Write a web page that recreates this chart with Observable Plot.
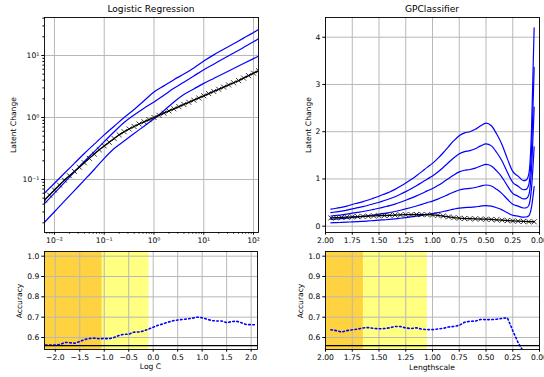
<!DOCTYPE html>
<html><head><meta charset="utf-8">
<script src="https://cdn.jsdelivr.net/npm/d3@7"></script>
<script src="https://cdn.jsdelivr.net/npm/@observablehq/plot@0.6"></script>
<style>
body{margin:0;background:#fff;}
#fig{position:relative;width:544px;height:377px;overflow:hidden;font-family:"DejaVu Sans",sans-serif;color:#000;}
.lab{position:absolute;white-space:nowrap;line-height:1;}
</style></head><body><div id="fig"></div>
<script>
// ---------- Logistic Regression (top-left) ----------
const lrBlueLogC = [-2.2,-2.0,-1.8,-1.6,-1.4,-1.2,-1.0,-0.8,-0.6,-0.4,-0.2,0.0,0.2,0.4,0.6,0.8,1.0,1.2,1.4,1.6,1.8,2.0,2.1];
const lrBlue1 = [0.0603,0.0871,0.126,0.182,0.263,0.372,0.525,0.724,1.0,1.349,1.862,2.570,3.236,4.074,5.012,6.310,8.128,10.23,12.59,15.49,19.05,23.44,26.30];
const lrBlue2 = [0.0407,0.0603,0.0891,0.132,0.195,0.282,0.407,0.589,0.832,1.096,1.413,1.778,2.291,2.951,3.715,4.677,5.888,7.244,8.913,10.96,13.49,16.60,18.62];
const lrBlue3 = [0.0204,0.0302,0.0447,0.0661,0.0977,0.145,0.219,0.316,0.417,0.550,0.724,0.955,1.288,1.778,2.344,2.884,3.548,4.266,5.129,6.166,7.413,8.913,9.772];
const lrMeanLogC = [-2.2,-2.1,-2.0,-1.9,-1.8,-1.7,-1.6,-1.5,-1.4,-1.3,-1.2,-1.1,-1.0,-0.9,-0.8,-0.7,-0.6,-0.5,-0.4,-0.3,-0.2,-0.1,0.0,0.1,0.2,0.3,0.4,0.5,0.6,0.7,0.8,0.9,1.0,1.1,1.2,1.3,1.4,1.5,1.6,1.7,1.8,1.9,2.0,2.1];
const lrMean = [0.0468,0.0562,0.0676,0.0813,0.0977,0.115,0.135,0.158,0.186,0.219,0.257,0.302,0.347,0.398,0.457,0.525,0.589,0.653,0.716,0.785,0.851,0.923,1.0,1.084,1.175,1.274,1.380,1.496,1.622,1.758,1.905,2.065,2.239,2.427,2.630,2.851,3.090,3.350,3.631,3.936,4.315,4.732,5.188,5.689];
const lrAcc = [0.563,0.563,0.563,0.566,0.576,0.574,0.572,0.58,0.59,0.595,0.597,0.594,0.595,0.594,0.60,0.61,0.616,0.616,0.626,0.627,0.632,0.641,0.651,0.66,0.667,0.675,0.682,0.686,0.689,0.691,0.695,0.70,0.697,0.69,0.683,0.681,0.681,0.673,0.678,0.68,0.673,0.664,0.663,0.663];
const lrSpanOrangeEnd = -1.045;
const lrSpanYellowEnd = -0.085;
const lrXTicks = [0.01,0.1,1,10,100];
const lrXTickLabels = ["10\u207B\u00B2","10\u207B\u00B9","10\u2070","10\u00B9","10\u00B2"];
const lrYTicks = [0.1,1,10];
const lrYTickLabels = ["10\u207B\u00B9","10\u2070","10\u00B9"];
const logCTicks = [-2.0,-1.5,-1.0,-0.5,0.0,0.5,1.0,1.5,2.0];

// ---------- GPClassifier (top-right) ----------
const gpScale = [1.95,1.90,1.85,1.80,1.75,1.70,1.65,1.60,1.55,1.50,1.45,1.40,1.35,1.30,1.25,1.20,1.15,1.10,1.05,1.00,0.95,0.90,0.85,0.80,0.75,0.70,0.65,0.60,0.55,0.50,0.45,0.40,0.35,0.30,0.25,0.20,0.15,0.125,0.10,0.075,0.05];
const gpBlue1 = [0.072,0.076,0.080,0.085,0.092,0.098,0.104,0.111,0.119,0.127,0.136,0.145,0.156,0.169,0.183,0.198,0.214,0.231,0.249,0.266,0.287,0.311,0.337,0.362,0.383,0.395,0.400,0.410,0.425,0.436,0.425,0.390,0.345,0.285,0.232,0.212,0.193,0.195,0.22,0.40,0.84];
const gpBlue2 = [0.144,0.152,0.160,0.170,0.184,0.196,0.208,0.222,0.238,0.254,0.272,0.290,0.312,0.338,0.366,0.396,0.428,0.462,0.498,0.532,0.574,0.622,0.674,0.724,0.766,0.790,0.800,0.820,0.850,0.872,0.850,0.780,0.690,0.570,0.464,0.424,0.386,0.390,0.440,0.800,1.68];
const gpBlue3 = [0.216,0.228,0.240,0.255,0.276,0.294,0.312,0.333,0.357,0.381,0.408,0.435,0.468,0.507,0.549,0.594,0.642,0.693,0.747,0.798,0.861,0.933,1.011,1.086,1.149,1.185,1.200,1.230,1.275,1.308,1.275,1.170,1.035,0.855,0.696,0.636,0.579,0.585,0.660,1.20,2.52];
const gpBlue4 = [0.288,0.304,0.320,0.340,0.368,0.392,0.416,0.444,0.476,0.508,0.544,0.580,0.624,0.676,0.732,0.792,0.856,0.924,0.996,1.064,1.148,1.244,1.348,1.448,1.532,1.580,1.600,1.640,1.700,1.744,1.700,1.560,1.380,1.140,0.928,0.848,0.772,0.780,0.880,1.60,3.36];
const gpBlue5 = [0.360,0.380,0.400,0.425,0.460,0.490,0.520,0.555,0.595,0.635,0.680,0.725,0.780,0.845,0.915,0.990,1.070,1.155,1.245,1.330,1.435,1.555,1.685,1.810,1.915,1.975,2.000,2.050,2.125,2.180,2.125,1.950,1.725,1.425,1.160,1.060,0.965,0.975,1.100,2.00,4.20];
const gpMeanScale = [1.95,1.90,1.85,1.80,1.75,1.70,1.65,1.60,1.55,1.50,1.45,1.40,1.35,1.30,1.25,1.20,1.15,1.10,1.05,1.00,0.95,0.90,0.85,0.80,0.75,0.70,0.65,0.60,0.55,0.50,0.45,0.40,0.35,0.30,0.25,0.20,0.15,0.10,0.05];
const gpMean = [0.175,0.180,0.186,0.192,0.198,0.203,0.208,0.213,0.218,0.222,0.227,0.231,0.236,0.240,0.244,0.246,0.248,0.247,0.244,0.238,0.228,0.215,0.198,0.182,0.170,0.163,0.159,0.155,0.151,0.148,0.143,0.136,0.128,0.120,0.112,0.106,0.101,0.097,0.094];
const gpAcc = [0.638,0.634,0.627,0.634,0.638,0.641,0.647,0.649,0.645,0.643,0.644,0.648,0.654,0.654,0.647,0.644,0.648,0.641,0.639,0.639,0.642,0.645,0.652,0.654,0.660,0.675,0.680,0.681,0.689,0.688,0.688,0.690,0.694,0.697,0.634,0.575,0.530,0.48,0.45];
const gpSpanOrangeEnd = 1.646;
const gpSpanYellowEnd = 1.047;
const gpXTicks = [2.0,1.75,1.5,1.25,1.0,0.75,0.5,0.25,0.0];
const gpYTicks = [0,1,2,3,4];
const accTicks = [0.6,0.7,0.8,0.9,1.0];
const chanceLevel = 0.56;

// ---------- build ----------
const fig = document.getElementById("fig");
const GRID = "#b8b8b8", BLUE = "#0000ff", YEL = "#ffff80", ORA = "#ffd240";
const st = {fontFamily: '"DejaVu Sans", sans-serif', fontSize: "7.6px", background: "transparent", color: "black", overflow: "visible", maxWidth: "none"};

function place(svg, left, top, w) {
  const d = document.createElement("div");
  d.style.cssText = `position:absolute;left:${left}px;top:${top}px;width:${w}px;`;
  d.appendChild(svg); fig.appendChild(d);
}
function label(txt, x, y, size, rot) {
  const d = document.createElement("div");
  d.className = "lab"; d.textContent = txt;
  d.style.left = x + "px"; d.style.top = y + "px"; d.style.fontSize = size + "px";
  d.style.transform = "translate(-50%,-50%)" + (rot ? " rotate(-90deg)" : "");
  fig.appendChild(d);
}
const minus = s => s.replace("-", "\u2212");
const gridOpts = {stroke: GRID, strokeOpacity: 1, strokeWidth: 1};
const axOpts = {tickSize: 2.7, tickPadding: 2.5, label: null};

// Top-left
const lrLines = [];
[lrBlue1, lrBlue2, lrBlue3].forEach((arr, s) => arr.forEach((v, i) => lrLines.push({C: 10 ** lrBlueLogC[i], v, s})));
const lrMeanData = lrMean.map((v, i) => ({C: 10 ** lrMeanLogC[i], v}));
const minorX = [], minorY = [];
for (let e = -3; e <= 2; e++) for (let m = 2; m <= 9; m++) { minorX.push(m * 10 ** e); minorY.push(m * 10 ** e); }
const xLogDom = [10 ** -2.2, 10 ** 2.1], yLogDom = [0.01396, 41.0];
const tl = Plot.plot({
  width: 272, height: 250, marginLeft: 44, marginRight: 14, marginTop: 17, marginBottom: 18,
  style: st,
  x: {type: "log", domain: xLogDom},
  y: {type: "log", domain: yLogDom},
  marks: [
    Plot.gridX(lrXTicks, gridOpts),
    Plot.gridY(lrYTicks, gridOpts),
    Plot.line(lrLines, {x: "C", y: "v", z: "s", stroke: BLUE, strokeWidth: 1.2, curve: "monotone-x", clip: true}),
    Plot.line(lrMeanData, {x: "C", y: "v", stroke: "black", strokeWidth: 1.3, clip: true}),
    Plot.dot(lrMeanData, {x: "C", y: "v", symbol: "times", r: 2.4, stroke: "black", strokeWidth: 0.8, clip: true}),
    Plot.axisX(minorX.filter(d => d > xLogDom[0] && d < xLogDom[1]), {tickSize: 1.6, tickFormat: () => "", label: null}),
    Plot.axisY(minorY.filter(d => d > yLogDom[0] && d < yLogDom[1]), {tickSize: 1.6, tickFormat: () => "", label: null}),
    Plot.axisX(lrXTicks, {...axOpts, tickFormat: d => lrXTickLabels[lrXTicks.indexOf(d)]}),
    Plot.axisY(lrYTicks, {...axOpts, tickFormat: d => lrYTickLabels[lrYTicks.indexOf(d)]}),
    Plot.frame({stroke: "black", strokeWidth: 0.9})
  ]
});
place(tl, 0, 0, 272);

// Top-right
const gpLines = [];
[gpBlue1, gpBlue2, gpBlue3, gpBlue4, gpBlue5].forEach((arr, s) => arr.forEach((v, i) => gpLines.push({x: gpScale[i], v, s})));
const gpMeanData = gpMean.map((v, i) => ({x: gpMeanScale[i], v}));
const tr = Plot.plot({
  width: 272, height: 250, marginLeft: 53, marginRight: 5, marginTop: 17, marginBottom: 18,
  style: st,
  x: {domain: [2, 0]},
  y: {domain: [-0.133, 4.417]},
  marks: [
    Plot.gridX(gpXTicks, gridOpts),
    Plot.gridY(gpYTicks, gridOpts),
    Plot.line(gpLines, {x: "x", y: "v", z: "s", stroke: BLUE, strokeWidth: 1.2, curve: "monotone-x", clip: true}),
    Plot.line(gpMeanData, {x: "x", y: "v", stroke: "black", strokeWidth: 1.3}),
    Plot.dot(gpMeanData, {x: "x", y: "v", symbol: "times", r: 2.4, stroke: "black", strokeWidth: 0.8}),
    Plot.axisX(gpXTicks, {...axOpts, tickFormat: d => d.toFixed(2)}),
    Plot.axisY(gpYTicks, {...axOpts, tickFormat: d => String(d)}),
    Plot.frame({stroke: "black", strokeWidth: 0.9})
  ]
});
place(tr, 272, 0, 272);

// Bottom-left
const lrAccData = lrAcc.map((v, i) => ({x: lrMeanLogC[i], v}));
const blDom = [-2.22, 2.13];
const bl = Plot.plot({
  width: 272, height: 137, marginLeft: 44, marginRight: 15, marginTop: 11, marginBottom: 28,
  style: st,
  x: {domain: blDom},
  y: {domain: [0.541, 1.023]},
  marks: [
    Plot.rect([{a: blDom[0], b: lrSpanYellowEnd}], {x1: "a", x2: "b", fill: YEL}),
    Plot.rect([{a: blDom[0], b: lrSpanOrangeEnd}], {x1: "a", x2: "b", fill: ORA}),
    Plot.gridX(logCTicks, gridOpts),
    Plot.gridY(accTicks, gridOpts),
    Plot.line(lrAccData, {x: "x", y: "v", stroke: BLUE, strokeWidth: 1.6, strokeDasharray: "1.6,2.5", clip: true}),
    Plot.ruleY([chanceLevel], {stroke: "black", strokeWidth: 1.2}),
    Plot.axisX(logCTicks, {...axOpts, tickFormat: d => minus(d.toFixed(1))}),
    Plot.axisY(accTicks, {...axOpts, tickFormat: d => d.toFixed(1)}),
    Plot.frame({stroke: "black", strokeWidth: 0.9})
  ]
});
place(bl, 0, 240, 272);

// Bottom-right
const gpAccData = gpAcc.map((v, i) => ({x: gpMeanScale[i], v}));
const br = Plot.plot({
  width: 272, height: 137, marginLeft: 53, marginRight: 5, marginTop: 11, marginBottom: 28,
  style: st,
  x: {domain: [2, 0]},
  y: {domain: [0.541, 1.023]},
  marks: [
    Plot.rect([{a: 2, b: gpSpanYellowEnd}], {x1: "a", x2: "b", fill: YEL}),
    Plot.rect([{a: 2, b: gpSpanOrangeEnd}], {x1: "a", x2: "b", fill: ORA}),
    Plot.gridX(gpXTicks, gridOpts),
    Plot.gridY(accTicks, gridOpts),
    Plot.line(gpAccData, {x: "x", y: "v", stroke: BLUE, strokeWidth: 1.6, strokeDasharray: "1.6,2.5", clip: true}),
    Plot.ruleY([chanceLevel], {stroke: "black", strokeWidth: 1.2}),
    Plot.axisX(gpXTicks, {...axOpts, tickFormat: d => d.toFixed(2)}),
    Plot.axisY(accTicks, {...axOpts, tickFormat: d => d.toFixed(1)}),
    Plot.frame({stroke: "black", strokeWidth: 0.9})
  ]
});
place(br, 272, 240, 272);

// Titles and axis labels
label("Logistic Regression", 151, 10, 9.1, false);
label("GPClassifier", 432, 10, 9.1, false);
label("Latent Change", 14, 124.5, 7.6, true);
label("Latent Change", 308.7, 124.5, 7.6, true);
label("Accuracy", 20, 300.8, 7.6, true);
label("Accuracy", 301.3, 300.8, 7.6, true);
label("Log C", 150.5, 367.3, 7.6, false);
label("Lengthscale", 432, 367.5, 7.6, false);
</script></body></html>
